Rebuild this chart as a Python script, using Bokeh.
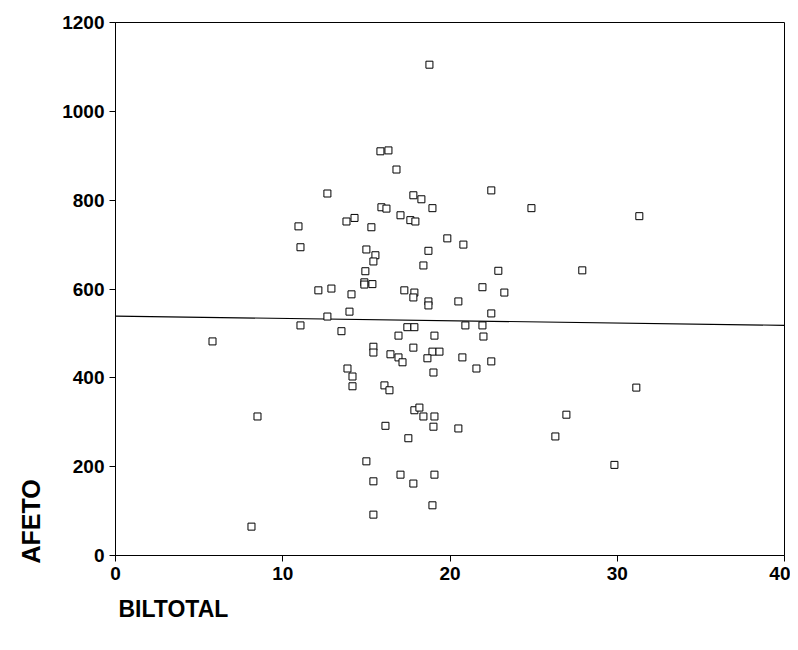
from bokeh.plotting import figure
from bokeh.models import Range1d, FixedTicker, Title
from bokeh.embed import file_html
from bokeh.resources import INLINE

# ---- data ----
biltotal = [15.84, 16.32, 16.80, 12.67, 17.81, 18.29, 18.95, 15.90, 16.20, 17.04,
            17.63, 17.93, 14.29, 13.81, 10.94, 15.30, 19.84, 11.06, 15.00, 15.54,
            18.71, 15.42, 18.41, 14.94, 14.88, 14.88, 15.36, 22.47, 24.87, 31.32,
            20.80, 22.89, 27.91, 18.77,
            12.13, 12.91, 14.11, 17.27, 17.87, 17.81, 18.71, 18.71, 20.50, 21.94,
            23.25, 12.67, 13.99, 22.47, 11.06, 13.51, 17.45, 17.87, 16.92, 19.07,
            20.92, 21.94, 22.00, 15.42, 15.42, 16.44, 16.92, 17.16, 17.81, 18.95,
            19.37, 18.65, 20.74, 22.47, 21.58, 13.87, 14.17, 14.17, 16.08, 16.38,
            19.01, 17.87, 18.17, 18.41, 19.07, 16.14, 19.01, 17.51, 20.50, 26.96,
            26.30, 31.14, 29.83, 5.80, 8.49,
            15.00, 17.04, 19.07, 15.42, 17.81, 18.95, 15.42, 8.13]
afeto = [910, 912, 869, 815, 811, 802, 782, 784, 781, 766,
         755, 752, 760, 752, 741, 739, 714, 694, 689, 676,
         686, 662, 653, 640, 615, 610, 611, 822, 782, 764,
         700, 641, 642, 1105,
         597, 601, 588, 597, 592, 581, 572, 563, 572, 604,
         592, 538, 549, 545, 518, 505, 514, 514, 495, 495,
         518, 518, 493, 470, 457, 453, 446, 435, 468, 459,
         459, 444, 446, 437, 421, 421, 403, 381, 383, 372,
         412, 327, 333, 313, 313, 292, 290, 264, 286, 317,
         268, 378, 204, 482, 313,
         212, 182, 182, 167, 162, 113, 92, 65]

fit_intercept = 539.0   # regression line
fit_slope = -0.52

x_ticks = [0, 10, 20, 30, 40]
y_ticks = [0, 200, 400, 600, 800, 1000, 1200]
x_title = "BILTOTAL"
y_title = "AFETO"

FONT = "Liberation Sans"

p = figure(width=790, height=634, output_backend="svg", toolbar_location=None,
           x_range=Range1d(0, 40), y_range=Range1d(0, 1200),
           min_border_left=115, min_border_right=6,
           min_border_top=22, min_border_bottom=79)
p.background_fill_color = "white"
p.border_fill_color = "white"
p.outline_line_color = "black"
p.outline_line_width = 1
p.xgrid.visible = False
p.ygrid.visible = False

for ax in (p.xaxis[0], p.yaxis[0]):
    ax.axis_line_color = "black"
    ax.major_tick_line_color = "black"
    ax.minor_tick_line_color = None
    ax.major_tick_in = 0
    ax.major_tick_out = 6
    ax.major_label_text_font = FONT
    ax.major_label_text_font_size = "19px"
    ax.major_label_text_font_style = "bold"
    ax.major_label_text_color = "black"
    ax.major_label_standoff = 5

p.xaxis[0].ticker = FixedTicker(ticks=x_ticks)
p.yaxis[0].ticker = FixedTicker(ticks=y_ticks)

# regression line across the x range
xs_line = [p.x_range.start, p.x_range.end]
ys_line = [fit_intercept + fit_slope * v for v in xs_line]
p.line(xs_line, ys_line, line_color="black", line_width=1.2)

p.scatter(biltotal, afeto, marker="square", size=7, fill_color="white",
          line_color="black", line_width=1)

p.add_layout(Title(text=x_title, align="left", offset=3, standoff=23,
                   text_font=FONT, text_font_size="23px", text_font_style="bold",
                   text_color="black"), "below")
p.add_layout(Title(text=y_title, align="left", offset=-8, standoff=29,
                   text_font=FONT, text_font_size="25px", text_font_style="bold",
                   text_color="black"), "left")

open("out.html", "w").write(file_html(p, INLINE))
